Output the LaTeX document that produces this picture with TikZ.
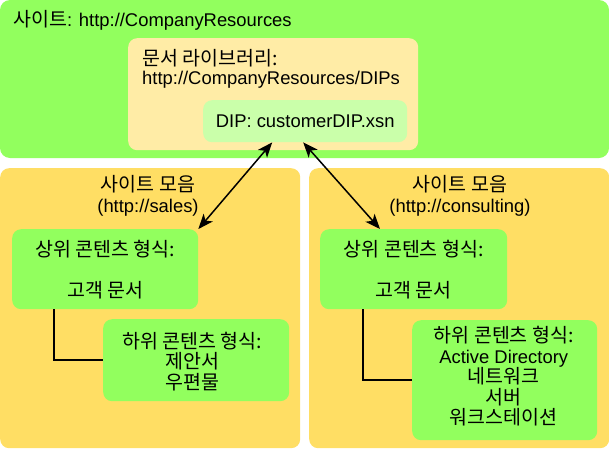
\documentclass[tikz,border=0pt]{standalone}
\usepackage{fontspec}
\setmainfont{Liberation Sans}
\newfontfamily\krfont[Scale=1.06]{Noto Sans CJK KR}
\usetikzlibrary{arrows.meta}
\definecolor{bgreen}{RGB}{146,255,94}
\definecolor{byellow}{RGB}{255,222,100}
\definecolor{lyellow}{RGB}{255,236,166}
\definecolor{lgreen}{RGB}{202,255,170}
\begin{document}
\begin{tikzpicture}[x=1pt,y=-1pt,
  box/.style={rounded corners=9pt, draw=none, inner sep=0pt},
  txt/.style={inner sep=0pt, font=\fontsize{18.4}{20.5}\selectfont, align=center},
  ltxt/.style={inner sep=0pt, font=\fontsize{18.4}{20.5}\selectfont, anchor=west},
  conn/.style={line width=1.5pt, black},
  dbl/.style={line width=1.5pt, black, {Stealth[length=15pt,width=12pt,inset=4pt]}-{Stealth[length=15pt,width=12pt,inset=4pt]}}]
\useasboundingbox (0,0) rectangle (609,450);
% boxes
\fill[bgreen, rounded corners=10pt] (0,0) rectangle (609,158);
\node[box, fill=lyellow, minimum width=290pt, minimum height=112pt, anchor=north west] (lib) at (128,38) {};
\node[box, fill=lgreen, minimum width=204pt, minimum height=42pt, anchor=north west] (dip) at (203,100) {};
\node[box, fill=byellow, minimum width=300pt, minimum height=280pt, anchor=north west] (ls) at (0,168) {};
\node[box, fill=byellow, minimum width=300pt, minimum height=280pt, anchor=north west] (rs) at (309,168) {};
\node[box, fill=bgreen, minimum width=186pt, minimum height=80pt, anchor=north west] (lu) at (12,229) {};
\node[box, fill=bgreen, minimum width=186pt, minimum height=82pt, anchor=north west] (ll) at (103,319) {};
\node[box, fill=bgreen, minimum width=187pt, minimum height=80pt, anchor=north west] (ru) at (320,229) {};
\node[box, fill=bgreen, minimum width=185pt, minimum height=120pt, anchor=north west] (rl) at (412,320) {};
% texts
\node[ltxt] (title) at (13,20) {{\krfont 사이트}: http://CompanyResources};
\node[ltxt] (libt1) at (142,58) {\krfont 문서 라이브러리:};
\node[ltxt] (libt2) at (142,80) {http://CompanyResources/DIPs};
\node[txt] (dipt) at (dip.center) {DIP: customerDIP.xsn};
\node[txt] (lst) at (148,196) {{\krfont 사이트 모음}\\(http://sales)};
\node[txt] (rst) at (460,196) {{\krfont 사이트 모음}\\(http://consulting)};
\node[txt] (lut) at (lu.center) {\krfont 상위 콘텐츠 형식:\\[20.5pt]\krfont 고객 문서};
\node[txt] (rut) at (ru.center) {\krfont 상위 콘텐츠 형식:\\[20.5pt]\krfont 고객 문서};
\node[txt] (llt) at ([xshift=-4pt,yshift=-1pt]ll.center) {\krfont 하위 콘텐츠 형식:\\\krfont 제안서\\\krfont 우편물};
\node[txt] (rlt) at ([xshift=-1pt,yshift=4pt]rl.center) {{\krfont 하위 콘텐츠 형식:}\\Active Directory\\{\krfont 네트워크}\\{\krfont 서버}\\{\krfont 워크스테이션}};
% connectors
\draw[conn] ([xshift=42pt]lu.south west) |- (ll.west);
\draw[conn] ([xshift=43pt]ru.south west) |- (rl.west);
\draw[dbl] ([xshift=-33pt]dip.south) -- (lu.north east);
\draw[dbl] ([xshift=-2pt]dip.south) -- ([xshift=60pt]ru.north west);
\end{tikzpicture}
\end{document}
